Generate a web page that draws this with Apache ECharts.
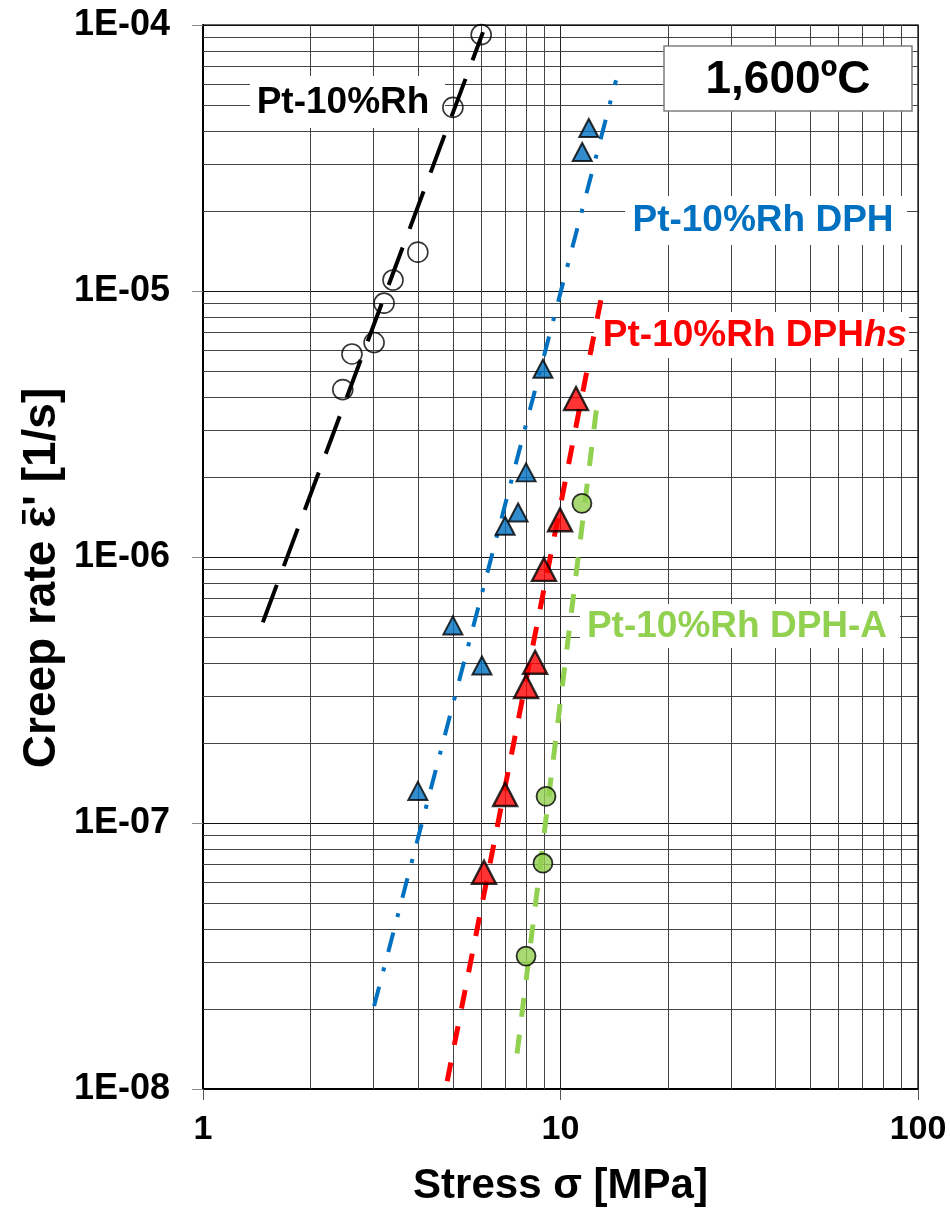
<!DOCTYPE html>
<html><head><meta charset="utf-8">
<script src="https://cdn.jsdelivr.net/npm/echarts@6.0.0/dist/echarts.min.js"></script>
<style>html,body{margin:0;padding:0;background:#fff}#c{width:950px;height:1212px}</style>
</head><body><div id="c"></div>
<script>
// ---- tick labels ----
const xTickLabels = ['1', '10', '100'];
const yTickLabels = ['1E-08', '1E-07', '1E-06', '1E-05', '1E-04'];
const xMinorGrid = [2, 3, 4, 5, 6, 7, 8, 9, 20, 30, 40, 50, 60, 70, 80, 90];
const yMinorGrid = [2e-8, 3e-8, 4e-8, 5e-8, 6e-8, 7e-8, 8e-8, 9e-8,
                    2e-7, 3e-7, 4e-7, 5e-7, 6e-7, 7e-7, 8e-7, 9e-7,
                    2e-6, 3e-6, 4e-6, 5e-6, 6e-6, 7e-6, 8e-6, 9e-6,
                    2e-5, 3e-5, 4e-5, 5e-5, 6e-5, 7e-5, 8e-5, 9e-5];

// ---- data: Pt-10%Rh (open circles) ----
const stressPt = [6.0, 5.0, 3.99, 3.40, 3.21, 3.01, 2.61, 2.46];
const ratePt   = [9.2e-5, 4.9e-5, 1.40e-5, 1.10e-5, 9.0e-6, 6.4e-6, 5.8e-6, 4.26e-6];
// ---- Pt-10%Rh DPH (blue triangles) ----
const stressDPH = [12.0, 11.5, 8.93, 8.01, 7.61, 7.0, 5.0, 6.03, 3.99];
const rateDPH   = [4.1e-5, 3.33e-5, 5.1e-6, 2.08e-6, 1.47e-6, 1.31e-6, 5.53e-7, 3.91e-7, 1.32e-7];
// ---- Pt-10%Rh DPHhs (red triangles) ----
const stressHS = [11.05, 9.97, 8.99, 8.49, 8.01, 7.0, 6.11];
const rateHS   = [3.94e-6, 1.38e-6, 8.98e-7, 4.02e-7, 3.26e-7, 1.28e-7, 6.53e-8];
// ---- Pt-10%Rh DPH-A (green circles) ----
const stressA = [11.48, 9.11, 8.93, 8.01];
const rateA   = [1.59e-6, 1.26e-7, 7.06e-8, 3.16e-8];

// ---- trend lines (end points) ----
const trendPtX = [1.47, 6.07],  trendPtY = [5.68e-7, 9.4e-5];
const trendDPHX = [3.01, 14.3], trendDPHY = [2.05e-8, 6.2e-5];
const trendHSX = [4.82, 13.06], trendHSY = [1.07e-8, 9.7e-6];
const trendAX = [7.56, 12.65],  trendAY = [1.36e-8, 3.74e-6];

const zip = (a, b) => a.map((v, i) => [v, b[i]]);
const FONT = "'Liberation Sans', Arial, sans-serif";
const BLUE = '#0070C0', RED = '#FF0000', GREEN = '#92D050';

// y-axis title geometry (rotated text with an overbar on epsilon)
const TITLE_PRE = 'Creep rate ', TITLE_EPS = 'ε', TITLE_POST = "' [1/s]";
const titleFont = 'bold 46px ' + FONT;
const mctx = document.createElement('canvas').getContext('2d');
mctx.font = titleFont;
const wPre = mctx.measureText(TITLE_PRE).width;
const wEps = mctx.measureText(TITLE_EPS).width;
const wAll = mctx.measureText(TITLE_PRE + TITLE_EPS + TITLE_POST).width;
const titleCx = 42, titleCy = 578;
const epsStartY = titleCy + wAll / 2 - wPre;   // bottom end of epsilon (rotated)

const chart = echarts.init(document.getElementById('c'));
chart.setOption({
  animation: false,
  backgroundColor: '#fff',
  textStyle: { fontFamily: FONT },
  grid: { left: 203, right: 32, top: 25, bottom: 122, show: true, borderColor: '#333', borderWidth: 1.5 },
  xAxis: {
    type: 'log', logBase: 10, min: 1, max: 100,
    axisLine: { show: true, onZero: false, lineStyle: { color: '#000', width: 2 } },
    axisTick: { show: true, length: 11, lineStyle: { color: '#555', width: 1 } },
    axisLabel: { fontSize: 34, fontWeight: 'bold', color: '#000', margin: 24, fontFamily: FONT,
      formatter: v => xTickLabels[Math.round(Math.log10(v))] },
    splitLine: { show: true, lineStyle: { color: '#222', width: 1 } },
    name: 'Stress σ [MPa]', nameLocation: 'middle', nameGap: 76,
    nameTextStyle: { fontSize: 42, fontWeight: 'bold', color: '#000', fontFamily: FONT }
  },
  yAxis: {
    type: 'log', logBase: 10, min: 1e-8, max: 1e-4,
    axisLine: { show: true, onZero: false, lineStyle: { color: '#000', width: 2 } },
    axisTick: { show: true, length: 11, lineStyle: { color: '#888', width: 1 } },
    axisLabel: { fontSize: 36, fontWeight: 'bold', color: '#000', margin: 33, fontFamily: FONT,
      formatter: v => yTickLabels[Math.round(Math.log10(v)) + 8] },
    splitLine: { show: true, lineStyle: { color: '#111', width: 1 } }
  },
  graphic: [
    { type: 'text', z: 10, x: titleCx, y: titleCy, rotation: Math.PI / 2,
      style: { text: TITLE_PRE + TITLE_EPS + TITLE_POST, font: titleFont, fill: '#000',
               textAlign: 'center', textVerticalAlign: 'middle' } },
    { type: 'rect', z: 10, shape: { x: 22, y: epsStartY - wEps + 4, width: 3.5, height: wEps - 8 },
      style: { fill: '#000' } },
    // Pt-10%Rh label
    { type: 'rect', z: 1.5, shape: { x: 250, y: 76, width: 195, height: 52 }, style: { fill: '#fff' } },
    { type: 'text', z: 10, x: 343, y: 103,
      style: { text: 'Pt-10%Rh', font: 'bold 37px ' + FONT, fill: '#000', textAlign: 'center', textVerticalAlign: 'middle' } },
    // temperature box
    { type: 'rect', z: 10, shape: { x: 664, y: 46, width: 248, height: 65 },
      style: { fill: '#fff', stroke: '#7f7f7f', lineWidth: 1.5 } },
    { type: 'text', z: 11, x: 788, y: 80,
      style: { text: '1,600ºC', font: 'bold 46px ' + FONT, fill: '#000', textAlign: 'center', textVerticalAlign: 'middle' } },
    // DPH label
    { type: 'rect', z: 1.5, shape: { x: 625, y: 196, width: 282, height: 49 }, style: { fill: '#fff' } },
    { type: 'text', z: 10, x: 763, y: 221,
      style: { text: 'Pt-10%Rh DPH', font: 'bold 37px ' + FONT, fill: BLUE, textAlign: 'center', textVerticalAlign: 'middle' } },
    // DPHhs label
    { type: 'rect', z: 1.5, shape: { x: 594, y: 312, width: 315, height: 46 }, style: { fill: '#fff' } },
    { type: 'text', z: 10, x: 755, y: 336,
      style: { text: '{a|Pt-10%Rh DPH}{b|hs}', textAlign: 'center', textVerticalAlign: 'middle',
        rich: { a: { font: 'bold 37px ' + FONT, fill: RED, color: RED },
                b: { font: 'italic bold 37px ' + FONT, fill: RED, color: RED } } } },
    // DPH-A label
    { type: 'rect', z: 1.5, shape: { x: 580, y: 604, width: 320, height: 44 }, style: { fill: '#fff' } },
    { type: 'text', z: 10, x: 737, y: 627,
      style: { text: 'Pt-10%Rh DPH-A', font: 'bold 37px ' + FONT, fill: GREEN, textAlign: 'center', textVerticalAlign: 'middle' } }
  ],
  series: [
    { type: 'scatter', z: 1, silent: true, symbolSize: 0, data: [[1, 1e-8]],
      markLine: { silent: true, z: 1, precision: 15, symbol: ['none', 'none'], label: { show: false },
        lineStyle: { color: '#444', width: 1, type: 'solid' },
        data: [...xMinorGrid.map(v => ({ xAxis: v })), ...yMinorGrid.map(v => ({ yAxis: v }))] } },
    // trend lines
    { type: 'line', z: 3, showSymbol: false, silent: true, data: zip(trendPtX, trendPtY),
      lineStyle: { color: '#000', width: 4, type: [40, 20], cap: 'butt' } },
    { type: 'line', z: 3, showSymbol: false, silent: true, data: zip(trendDPHX, trendDPHY),
      lineStyle: { color: BLUE, width: 4, type: [20, 16, 4, 16], cap: 'butt' } },
    { type: 'line', z: 3, showSymbol: false, silent: true, data: zip(trendHSX, trendHSY),
      lineStyle: { color: RED, width: 5, type: [19, 18], cap: 'butt' } },
    { type: 'line', z: 3, showSymbol: false, silent: true, data: zip(trendAX, trendAY),
      lineStyle: { color: GREEN, width: 5, type: [19, 18], cap: 'butt' } },
    // points
    { type: 'scatter', z: 4, symbol: 'circle', symbolSize: 20, data: zip(stressPt, ratePt),
      itemStyle: { color: 'rgba(255,255,255,0)', borderColor: '#000', borderWidth: 1.6 } },
    { type: 'scatter', z: 4, symbol: 'triangle', symbolSize: [19, 18], data: zip(stressDPH, rateDPH),
      itemStyle: { color: BLUE, borderColor: '#000', borderWidth: 2 } },
    { type: 'scatter', z: 4, symbol: 'triangle', symbolSize: [24, 23], data: zip(stressHS, rateHS),
      itemStyle: { color: RED, borderColor: '#000', borderWidth: 2.4 } },
    { type: 'scatter', z: 4, symbol: 'circle', symbolSize: 19, data: zip(stressA, rateA),
      itemStyle: { color: GREEN, borderColor: '#000', borderWidth: 1.8 } }
  ]
});
</script></body></html>
